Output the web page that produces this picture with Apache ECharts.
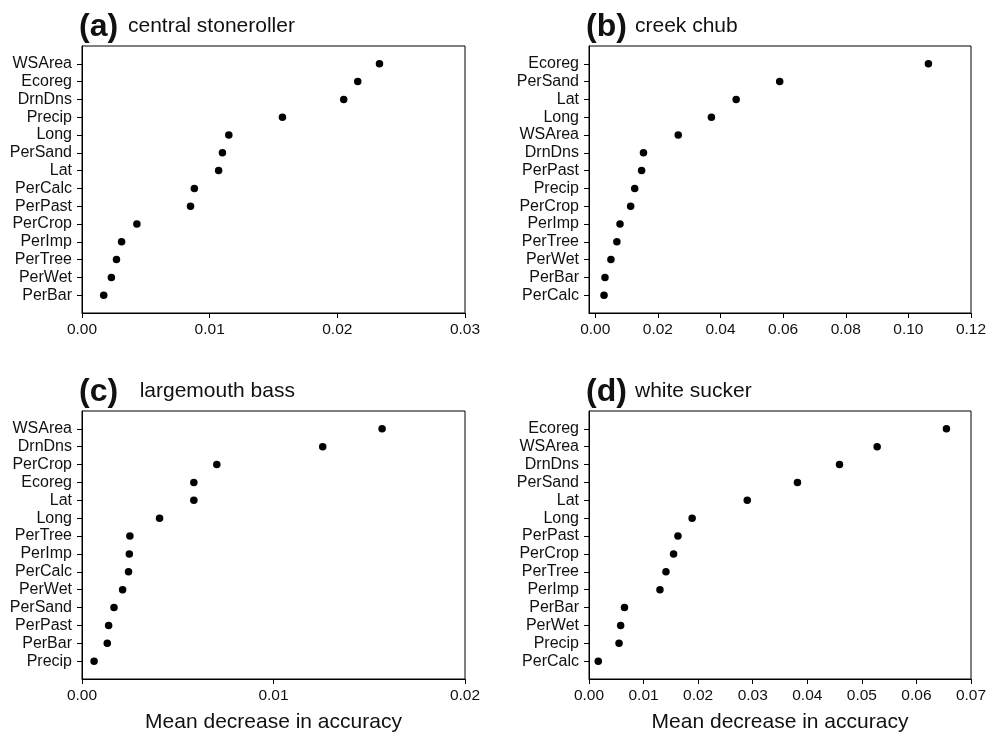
<!DOCTYPE html>
<html>
<head>
<meta charset="utf-8">
<script src="https://cdn.jsdelivr.net/npm/echarts@6/dist/echarts.min.js"></script>
<style>
  html, body { margin: 0; padding: 0; background: #fff; }
  #chart { width: 987px; height: 732px; }
</style>
</head>
<body>
<div id="chart"></div>
<script>
// 变量名（自上而下）和对应的重要性值
var namesA = ['WSArea','Ecoreg','DrnDns','Precip','Long','PerSand','Lat','PerCalc','PerPast','PerCrop','PerImp','PerTree','PerWet','PerBar']
var valuesA = [0.0233,0.0216,0.0205,0.0157,0.0115,0.0110,0.0107,0.0088,0.0085,0.0043,0.0031,0.0027,0.0023,0.0017]

var namesB = ['Ecoreg','PerSand','Lat','Long','WSArea','DrnDns','PerPast','Precip','PerCrop','PerImp','PerTree','PerWet','PerBar','PerCalc']
var valuesB = [0.1064,0.0589,0.0450,0.0371,0.0265,0.0154,0.0148,0.0126,0.0113,0.0079,0.0069,0.0050,0.0031,0.0028]

var namesC = ['WSArea','DrnDns','PerCrop','Ecoreg','Lat','Long','PerTree','PerImp','PerCalc','PerWet','PerSand','PerPast','PerBar','Precip']
var valuesC = [0.01567,0.01257,0.00704,0.00584,0.00584,0.00405,0.00250,0.00247,0.00243,0.00212,0.00167,0.00139,0.00132,0.00063]

var namesD = ['Ecoreg','WSArea','DrnDns','PerSand','Lat','Long','PerPast','PerCrop','PerTree','PerImp','PerBar','PerWet','Precip','PerCalc']
var valuesD = [0.0655,0.0528,0.0459,0.0382,0.0290,0.0189,0.0163,0.0155,0.0141,0.0130,0.0065,0.0058,0.0055,0.0017]

var ticksB = [0, 0.02, 0.04, 0.06, 0.08, 0.10, 0.12]
var rowIdx = [0,1,2,3,4,5,6,7,8,9,10,11,12,13]

var FONT = "'Liberation Sans', Arial, sans-serif"

var panels = [
    {tag: '(a)', title: 'central stoneroller', names: namesA, values: valuesA, min: 0, max: 0.03, interval: 0.01, digits: 2,
        left: 82, top: 46, width: 383, height: 267, xname: ''},
    {tag: '(b)', title: 'creek chub', names: namesB, values: valuesB, min: -0.002, max: 0.12, custom: ticksB, digits: 2,
        left: 589, top: 46, width: 382, height: 267, xname: ''},
    {tag: '(c)', title: '  largemouth bass', names: namesC, values: valuesC, min: 0, max: 0.02, interval: 0.01, digits: 2,
        left: 82, top: 411, width: 383, height: 268, xname: 'Mean decrease in accuracy'},
    {tag: '(d)', title: 'white sucker', names: namesD, values: valuesD, min: 0, max: 0.07, interval: 0.01, digits: 2,
        left: 589, top: 411, width: 382, height: 268, xname: 'Mean decrease in accuracy'}
]

var myChart = echarts.init(document.getElementById('chart'))

var grids = [], xAxes = [], yAxes = [], series = [], titles = []

panels.forEach(function (p, i) {
    grids.push({
        left: p.left, top: p.top, width: p.width, height: p.height,
        outerBoundsMode: 'none', containLabel: false,
        show: true, borderColor: '#000', borderWidth: 1, backgroundColor: 'transparent'
    })

    // 标题：粗体字母 + 鱼种名
    titles.push({
        text: p.tag, left: p.left - 3, top: p.top - 35, padding: 0,
        textStyle: {fontFamily: FONT, fontSize: 32, fontWeight: 'bold', color: '#111'}
    })
    titles.push({
        text: p.title, left: p.left + 46, top: p.top - 30, padding: 0,
        textStyle: {fontFamily: FONT, fontSize: 21, fontWeight: 'normal', color: '#111'}
    })

    var xa = {
        gridIndex: i, type: 'value', min: p.min, max: p.max,
        axisLine: {show: true, onZero: false, lineStyle: {color: '#000', width: 1}},
        axisTick: {show: true, length: 5, lineStyle: {color: '#000'}},
        splitLine: {show: false},
        axisLabel: {
            fontFamily: FONT, fontSize: 15.5, color: '#111', margin: 9,
            showMinLabel: true, showMaxLabel: true,
            formatter: function (v) { return v.toFixed(p.digits) }
        },
        name: p.xname, nameLocation: 'middle', nameGap: 33,
        nameTextStyle: {fontFamily: FONT, fontSize: 21, color: '#111'}
    }
    if (p.custom) {
        xa.axisTick.customValues = p.custom
        xa.axisLabel.customValues = p.custom
    } else {
        xa.interval = p.interval
    }
    xAxes.push(xa)

    yAxes.push({
        gridIndex: i, type: 'value', min: -1, max: 14, inverse: true,
        axisLine: {show: true, onZero: false, lineStyle: {color: '#000', width: 1}},
        axisTick: {show: true, length: 5, customValues: rowIdx, lineStyle: {color: '#000'}},
        splitLine: {show: false},
        axisLabel: {
            fontFamily: FONT, fontSize: 16, color: '#111', margin: 10,
            customValues: rowIdx,
            formatter: function (v) { return p.names[v] || '' }
        }
    })

    series.push({
        type: 'scatter', xAxisIndex: i, yAxisIndex: i,
        symbol: 'circle', symbolSize: 7.5,
        itemStyle: {color: '#000', opacity: 1},
        silent: true,
        data: p.values.map(function (v, k) { return [v, k] })
    })
})

var option = {
    backgroundColor: '#fff',
    animation: false,
    title: titles,
    grid: grids,
    xAxis: xAxes,
    yAxis: yAxes,
    series: series
}

myChart.setOption(option)
</script>
</body>
</html>
